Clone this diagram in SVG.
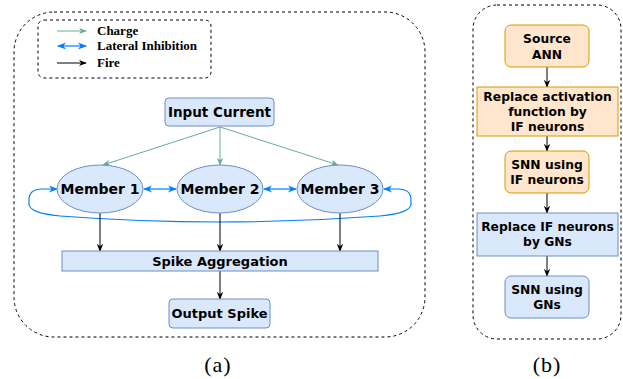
<svg xmlns="http://www.w3.org/2000/svg" width="623" height="379" viewBox="0 0 623 379">
<style>
.cont{fill:none;stroke:#000;stroke-width:1;stroke-dasharray:3 3}
.blue{fill:#dae8fc;stroke:#6c8ebf;stroke-width:1}
.orange{fill:#ffe6cc;stroke:#d79b00;stroke-width:1}
.t{font-family:"DejaVu Sans",Verdana,sans-serif;font-weight:bold;fill:#000;text-anchor:middle}
.lg{font-family:"Liberation Serif","Times New Roman",serif;font-weight:bold;font-size:13px;fill:#000}
.cap{font-family:"Liberation Serif","Times New Roman",serif;font-size:22px;fill:#000;text-anchor:middle;letter-spacing:1px}
.charge{fill:none;stroke:#67ab9f;stroke-width:1;marker-end:url(#mg)}
.lat{fill:none;stroke:#007fff;stroke-width:1.2;marker-end:url(#mb);marker-start:url(#mb)}
.fire{fill:none;stroke:#000;stroke-width:1;marker-end:url(#mk)}
</style>
<defs>
<marker id="mg" viewBox="0 0 10 10" refX="9" refY="5" markerWidth="8" markerHeight="8" markerUnits="userSpaceOnUse" orient="auto-start-reverse"><path d="M0,1 L10,5 L0,9 L3,5 z" fill="#67ab9f"/></marker>
<marker id="mb" viewBox="0 0 10 10" refX="9" refY="5" markerWidth="9" markerHeight="9" markerUnits="userSpaceOnUse" orient="auto-start-reverse"><path d="M0,1 L10,5 L0,9 L3,5 z" fill="#007fff"/></marker>
<marker id="mk" viewBox="0 0 10 10" refX="9" refY="5" markerWidth="8" markerHeight="8" markerUnits="userSpaceOnUse" orient="auto-start-reverse"><path d="M0,1 L10,5 L0,9 L3,5 z" fill="#000"/></marker>
</defs>

<!-- (a) -->
<rect class="cont" x="14" y="12" width="411" height="325" rx="40" ry="40"/>
<g id="legend">
<rect class="cont" x="38" y="20" width="173" height="58" rx="6" ry="6"/>
<line class="charge" x1="57" y1="31" x2="86" y2="31"/>
<line class="lat" x1="58" y1="46" x2="86" y2="46"/>
<line class="fire" x1="57" y1="63" x2="86" y2="63"/>
<text class="lg" x="97" y="35">Charge</text>
<text class="lg" x="97" y="50">Lateral Inhibition</text>
<text class="lg" x="97" y="66.5">Fire</text>
</g>

<g id="connectors">
<line class="charge" x1="220" y1="127" x2="103" y2="165"/>
<line class="charge" x1="220" y1="127" x2="220" y2="165"/>
<line class="charge" x1="220" y1="127" x2="338" y2="165"/>
<line class="lat" x1="144" y1="189" x2="176" y2="189"/>
<line class="lat" x1="264" y1="189" x2="296" y2="189"/>
<path class="lat" d="M57,189 L42,189 Q29,189 29,200 L29,204 Q29,213 60,216 Q220,228 380,216 Q411,213 411,204 L411,200 Q411,189 398,189 L384,189"/>
<line class="fire" x1="100" y1="213" x2="100" y2="251"/>
<line class="fire" x1="220" y1="213" x2="220" y2="251"/>
<line class="fire" x1="340" y1="213" x2="340" y2="251"/>
<line class="fire" x1="220" y1="271" x2="220" y2="299"/>
<line class="fire" x1="547" y1="67" x2="547" y2="87"/>
<line class="fire" x1="547" y1="136" x2="547" y2="151"/>
<line class="fire" x1="547" y1="193" x2="547" y2="213"/>
<line class="fire" x1="547" y1="256" x2="547" y2="276"/>
</g>

<g id="input-current">
<rect class="blue" x="165" y="98" width="109" height="28" rx="4" ry="4"/>
<text class="t" x="219.5" y="117" font-size="13.5">Input Current</text>
</g>
<g id="member1">
<ellipse class="blue" cx="100" cy="189" rx="43" ry="24"/>
<text class="t" x="100" y="194" font-size="14">Member 1</text>
</g>
<g id="member2">
<ellipse class="blue" cx="220" cy="189" rx="43" ry="24"/>
<text class="t" x="220" y="194" font-size="14">Member 2</text>
</g>
<g id="member3">
<ellipse class="blue" cx="340" cy="189" rx="43" ry="24"/>
<text class="t" x="340" y="194" font-size="14">Member 3</text>
</g>
<g id="spike-aggregation">
<rect class="blue" x="62" y="251" width="316" height="20"/>
<text class="t" x="220" y="265.5" font-size="13">Spike Aggregation</text>
</g>
<g id="output-spike">
<rect class="blue" x="169" y="299" width="101" height="29" rx="4" ry="4"/>
<text class="t" x="219.5" y="318" font-size="13">Output Spike</text>
</g>
<text class="cap" x="218" y="372">(a)</text>

<!-- (b) -->
<rect class="cont" x="473" y="5" width="148" height="334" rx="24" ry="24"/>
<g id="source-ann">
<rect class="orange" x="505" y="25" width="84" height="42" rx="6" ry="6"/>
<text class="t" x="547" y="43" font-size="12.3">Source</text>
<text class="t" x="547" y="59" font-size="12.3">ANN</text>
</g>
<g id="replace-activation">
<rect class="orange" x="477" y="87" width="141" height="49"/>
<text class="t" x="547.5" y="101" font-size="12.3">Replace activation</text>
<text class="t" x="547.5" y="116" font-size="12.3">function by</text>
<text class="t" x="547.5" y="131" font-size="12.3">IF neurons</text>
</g>
<g id="snn-if">
<rect class="orange" x="505" y="151" width="84" height="42" rx="6" ry="6"/>
<text class="t" x="547" y="169" font-size="12.3">SNN using</text>
<text class="t" x="547" y="184" font-size="12.3">IF neurons</text>
</g>
<g id="replace-if">
<rect class="blue" x="477" y="213" width="141" height="43"/>
<text class="t" x="547.5" y="231" font-size="12.3">Replace IF neurons</text>
<text class="t" x="547.5" y="246" font-size="12.3">by GNs</text>
</g>
<g id="snn-gn">
<rect class="blue" x="505" y="276" width="84" height="42" rx="6" ry="6"/>
<text class="t" x="547" y="294" font-size="12.3">SNN using</text>
<text class="t" x="547" y="309" font-size="12.3">GNs</text>
</g>
<text class="cap" x="547" y="372">(b)</text>
</svg>
